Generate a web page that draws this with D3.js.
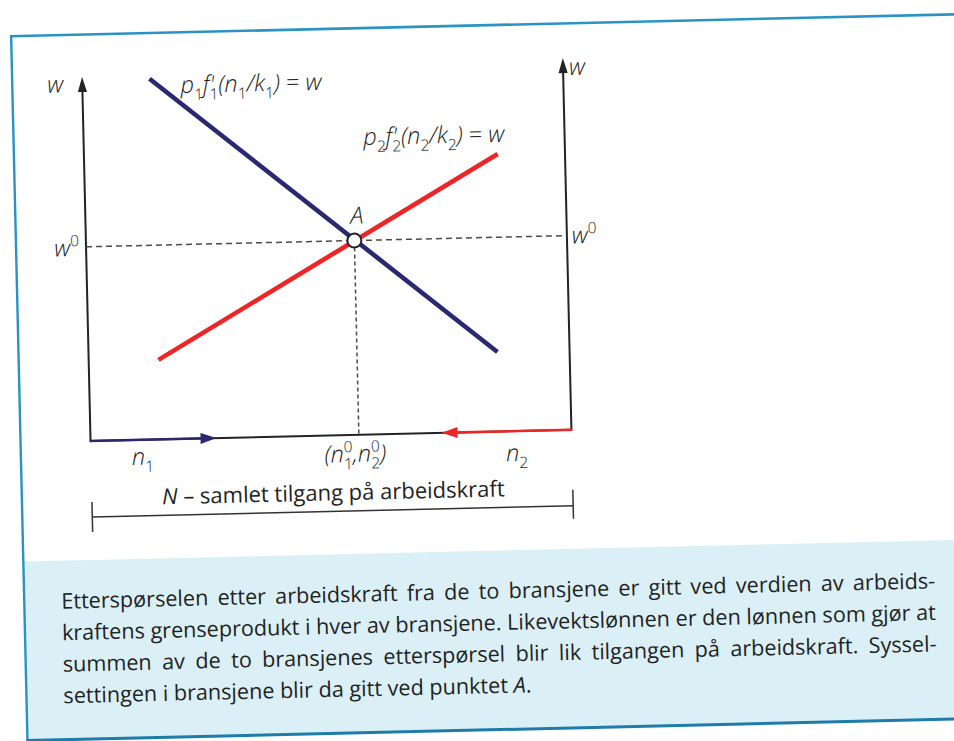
<!DOCTYPE html>
<html>
<head>
<meta charset="utf-8">
<script src="https://cdn.jsdelivr.net/npm/d3@7"></script>
<style>
  html, body { margin: 0; padding: 0; background: #ffffff; }
  svg { display: block; }
</style>
</head>
<body>
<svg id="fig" width="954" height="741"></svg>
<script>
// Labour demand in the two industries. n1 is measured from the left axis,
// n2 from the right axis; both curves share the wage axis w.
const demand1 = [[1.4, 9.75], [8.5, 2.15]];    // p1 f1'(n1/k1) = w
const demand2 = [[1.45, 2.15], [8.6, 7.5]];    // p2 f2'(n2/k2) = w
const equilibrium = { n: 5.58, w: 5.25 };      // point A, wage w0
const totalLabour = 10;                        // N, width of the box
const n1ArrowEnd = 2.62;                       // n1 grows to the right
const n2ArrowEnd = 7.3;                        // n2 grows to the left
const wageAxisTop = [9.84, 10.05];             // tips of left / right wage axes

const captionLines = [
  "Etterspørselen etter arbeidskraft fra de to bransjene er gitt ved verdien av arbeids-",
  "kraftens grenseprodukt i hver av bransjene. Likevektslønnen er den lønnen som gjør at",
  "summen av de to bransjenes etterspørsel blir lik tilgangen på arbeidskraft. Syssel-",
  "settingen i bransjene blir da gitt ved punktet A."
];
const supplyLabel = "N – samlet tilgang på arbeidskraft";

const FONT = "'Open Sans', 'Noto Sans', 'DejaVu Sans', sans-serif";
const INK = "#232323";
const BLUE = "#2a2970";
const RED = "#ee2526";
const LABEL_SIZE = 23.5;

const svg = d3.select("#fig");
const page = svg.append("g").attr("transform", "rotate(-1.33 477 370)");

const x = d3.scaleLinear().domain([0, totalLabour]).range([89, 570]);
const y = d3.scaleLinear().domain([0, 10]).range([432, 62]);
const line = d3.line().x(d => x(d[0])).y(d => y(d[1]));

// ---- frame and caption panel ----
page.append("rect")
  .attr("x", 19).attr("y", 551).attr("width", 1000).attr("height", 179)
  .attr("fill", "#dbf0f6");
page.append("line")
  .attr("x1", 18).attr("x2", 1010).attr("y1", 25.5).attr("y2", 25.5)
  .attr("stroke", "#2a93c4").attr("stroke-width", 2.6);
page.append("line")
  .attr("x1", 19).attr("x2", 19).attr("y1", 24.5).attr("y2", 731)
  .attr("stroke", "#2a93c4").attr("stroke-width", 2.4);
page.append("line")
  .attr("x1", 18).attr("x2", 1010).attr("y1", 730).attr("y2", 730)
  .attr("stroke", "#1f7ba8").attr("stroke-width", 3);

// ---- arrowhead helper ----
function arrowHead(g, tipX, tipY, dirX, dirY, len, half, color) {
  const bx = tipX - dirX * len, by = tipY - dirY * len;
  const px = -dirY, py = dirX;
  g.append("path")
    .attr("d", `M${tipX},${tipY}L${bx + px * half},${by + py * half}L${bx - px * half},${by - py * half}Z`)
    .attr("fill", color);
}

const chart = page.append("g");

// ---- wage axes ----
[[0, wageAxisTop[0]], [totalLabour, wageAxisTop[1]]].forEach(([n, top]) => {
  chart.append("line")
    .attr("x1", x(n)).attr("x2", x(n))
    .attr("y1", y(0)).attr("y2", y(top) + 10)
    .attr("stroke", INK).attr("stroke-width", 2);
  arrowHead(chart, x(n), y(top), 0, -1, 15, 4.6, INK);
});

// ---- labour axis with n1 and n2 directions ----
chart.append("line")
  .attr("x1", x(0)).attr("x2", x(totalLabour))
  .attr("y1", y(0)).attr("y2", y(0))
  .attr("stroke", INK).attr("stroke-width", 2);
chart.append("line")
  .attr("x1", x(0) - 1).attr("x2", x(n1ArrowEnd) - 10)
  .attr("y1", y(0)).attr("y2", y(0))
  .attr("stroke", BLUE).attr("stroke-width", 2.6);
arrowHead(chart, x(n1ArrowEnd), y(0), 1, 0, 16, 5.5, BLUE);
chart.append("line")
  .attr("x1", x(totalLabour) + 1).attr("x2", x(n2ArrowEnd) + 10)
  .attr("y1", y(0)).attr("y2", y(0))
  .attr("stroke", RED).attr("stroke-width", 2.6);
arrowHead(chart, x(n2ArrowEnd), y(0), -1, 0, 16, 5.5, RED);

// ---- guide lines through A ----
chart.append("line")
  .attr("x1", x(0)).attr("x2", x(totalLabour))
  .attr("y1", y(equilibrium.w)).attr("y2", y(equilibrium.w))
  .attr("stroke", "#4a4a4a").attr("stroke-width", 1.5)
  .attr("stroke-dasharray", "6,4");
chart.append("line")
  .attr("x1", x(equilibrium.n)).attr("x2", x(equilibrium.n))
  .attr("y1", y(equilibrium.w)).attr("y2", y(0))
  .attr("stroke", "#4a4a4a").attr("stroke-width", 1.5)
  .attr("stroke-dasharray", "4,3");

// ---- demand curves ----
chart.append("path").datum(demand1).attr("d", line)
  .attr("fill", "none").attr("stroke", BLUE).attr("stroke-width", 4.6);
chart.append("path").datum(demand2).attr("d", line)
  .attr("fill", "none").attr("stroke", RED).attr("stroke-width", 4.6);

// ---- equilibrium point A ----
chart.append("circle")
  .attr("cx", x(equilibrium.n)).attr("cy", y(equilibrium.w)).attr("r", 7)
  .attr("fill", "#fff").attr("stroke", INK).attr("stroke-width", 2);

// ---- math labels built from italic/roman pieces with sub- and superscripts ----
function mathLabel(g, px, py, parts, opts = {}) {
  const size = opts.size || LABEL_SIZE;
  const t = g.append("text")
    .attr("x", px).attr("y", py)
    .attr("font-family", FONT).attr("font-size", size)
    .attr("font-weight", 300)
    .attr("fill", INK)
    .attr("text-anchor", opts.anchor || "start");
  let shift = 0;
  parts.forEach(p => {
    const [txt, kind, back] = p;
    let target = 0, fs = size, style = "italic";
    if (kind === "r") style = "normal";
    if (kind === "sub") { target = size * 0.3; fs = size * 0.66; style = "normal"; }
    if (kind === "sup") { target = -size * 0.42; fs = size * 0.66; style = "normal"; }
    const ts = t.append("tspan")
      .attr("font-size", fs)
      .attr("font-style", style)
      .attr("dy", target - shift)
      .text(txt);
    if (back) ts.attr("dx", back * size);
    shift = target;
  });
  return t;
}

// p1 f1'(n1/k1) = w
mathLabel(chart, x(demand1[0][0]) + 31, y(demand1[0][1]) + 15, [
  ["p", "i"], ["1", "sub"], ["f", "i"], ["'", "i"], ["1", "sub", -0.2],
  ["(", "i"], ["n", "i"], ["1", "sub"], ["/", "i"], ["k", "i"], ["1", "sub"],
  [")", "i"], [" = ", "r"], ["w", "i"]
]);
// p2 f2'(n2/k2) = w
mathLabel(chart, x(demand2[1][0]) + 7, y(demand2[1][1]) - 12, [
  ["p", "i"], ["2", "sub"], ["f", "i"], ["'", "i"], ["2", "sub", -0.2],
  ["(", "i"], ["n", "i"], ["2", "sub"], ["/", "i"], ["k", "i"], ["2", "sub"],
  [")", "i"], [" = ", "r"], ["w", "i"]
], { anchor: "end" });

// A
mathLabel(chart, x(equilibrium.n) + 3, y(equilibrium.w) - 17, [["A", "i"]], { anchor: "middle" });

// wage axis names
mathLabel(chart, x(0) - 19, y(wageAxisTop[0]) + 15, [["w", "i"]], { anchor: "end" });
mathLabel(chart, x(totalLabour) + 6, y(wageAxisTop[1]) + 17, [["w", "i"]]);

// w0 on both sides
mathLabel(chart, x(0) - 7, y(equilibrium.w) + 9, [["w", "i"], ["0", "sup"]], { anchor: "end" });
mathLabel(chart, x(totalLabour) + 5, y(equilibrium.w) + 8, [["w", "i"], ["0", "sup"]]);

// n1, (n1^0, n2^0), n2 under the labour axis
mathLabel(chart, x(0) + 41, y(0) + 25, [["n", "i"], ["1", "sub"]]);
mathLabel(chart, x(equilibrium.n) - 4, y(0) + 27, [
  ["(", "i"], ["n", "i"], ["0", "sup"], ["1", "sub", -0.37], [",", "i"],
  ["n", "i"], ["0", "sup"], ["2", "sub", -0.37], [")", "i"]
], { anchor: "middle" });
mathLabel(chart, x(totalLabour) - 66, y(0) + 30, [["n", "i"], ["2", "sub"]]);

// ---- N bracket: total labour supply ----
const bracketY = 508;
const bracket = chart.append("g").attr("stroke", "#333").attr("stroke-width", 1.5);
bracket.append("line").attr("x1", x(0)).attr("x2", x(totalLabour))
  .attr("y1", bracketY).attr("y2", bracketY);
bracket.append("line").attr("x1", x(0)).attr("x2", x(0))
  .attr("y1", bracketY - 15).attr("y2", bracketY + 15);
bracket.append("line").attr("x1", x(totalLabour)).attr("x2", x(totalLabour))
  .attr("y1", bracketY - 16).attr("y2", bracketY + 13);

const supplyText = chart.append("text")
  .attr("x", (x(0) + x(totalLabour)) / 2 + 1).attr("y", bracketY - 11)
  .attr("text-anchor", "middle")
  .attr("font-family", FONT).attr("font-size", 22).attr("fill", INK);
supplyText.append("tspan").attr("font-style", "italic").text(supplyLabel.slice(0, 1));
supplyText.append("tspan").text(supplyLabel.slice(1));

// ---- caption, justified between fixed margins ----
const cap = page.append("g");
const capLeft = 56, capRight = 930;
const capBaselines = [599, 630.5, 662, 693.5];
function measure(s, fs) {
  const tmp = cap.append("text").attr("font-family", FONT).attr("font-size", fs).text(s);
  const len = tmp.node().getComputedTextLength();
  tmp.remove();
  return len;
}
const capSize = Math.max(16, Math.min(23, 20 * (capRight - capLeft) / measure(captionLines[1], 20)));

captionLines.forEach((ln, i) => {
  const words = ln.split(" ");
  const t = cap.append("text")
    .attr("y", capBaselines[i])
    .attr("font-family", FONT).attr("font-size", capSize).attr("fill", "#232323");
  const widths = words.map(w => measure(w, capSize));
  const total = d3.sum(widths);
  const justify = i < captionLines.length - 1;
  const spaceW = capSize * 0.26;
  const gap = justify ? (capRight - capLeft - total) / (words.length - 1) : spaceW;
  let cx = capLeft;
  words.forEach((w, k) => {
    const ts = t.append("tspan").attr("x", cx);
    if (i === 3 && w === "A.") {
      ts.append("tspan").attr("font-style", "italic").text("A");
      ts.append("tspan").text(".");
    } else {
      ts.text(w);
    }
    cx += widths[k] + gap;
  });
});
</script>
</body>
</html>
